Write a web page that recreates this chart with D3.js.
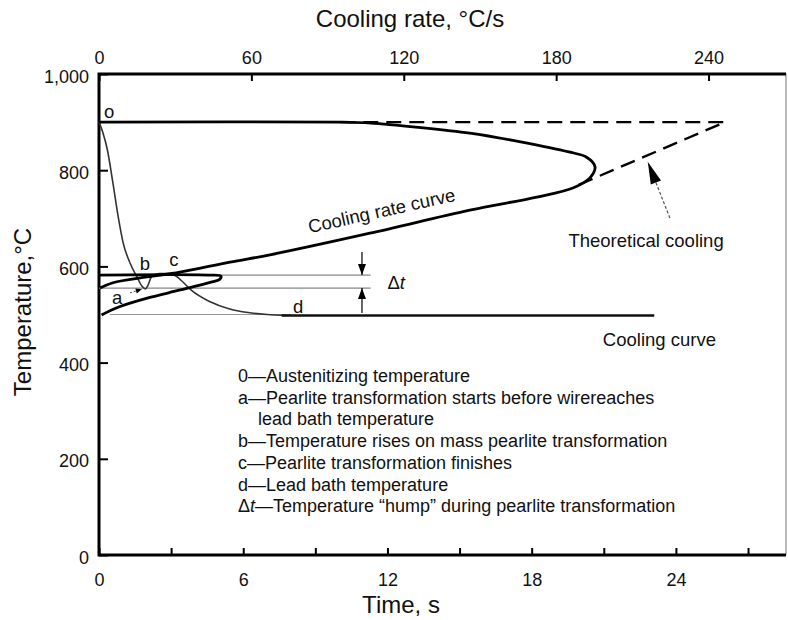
<!DOCTYPE html>
<html><head><meta charset="utf-8">
<script src="https://cdn.jsdelivr.net/npm/d3@7"></script>
<style>body{margin:0;background:#fff} svg{display:block} text{font-family:"Liberation Sans",Arial,sans-serif;fill:#111}</style>
</head><body><svg id="c" width="788" height="620"></svg>
<script>
// ---- data ----
const timeTicks = [0, 6, 12, 18, 24];
const timeMinorTicks = [3, 9, 15, 21, 27];
const rateTicks = [0, 60, 120, 180, 240];
const tempTicks = [0, 200, 400, 600, 800, 1000];

// cooling curve (time s, temperature °C)
const coolTime = [0, 0.15, 0.35, 0.58, 0.8, 1.0, 1.3, 1.58, 1.8, 1.93, 2.03, 2.2, 2.5, 2.9, 3.2, 3.5, 3.85, 4.6, 5.4, 6.2, 7.0, 7.8];
const coolTemp = [900, 880, 842, 773, 703, 650, 606, 578, 558, 553, 560, 580, 585, 585, 580, 567, 550, 527, 512, 504, 500, 498];
const bathTime = [7.6, 23.1];
const bathTemp = [498, 498];

// cooling rate curve (rate °C/s, temperature °C)
const rateCurveRate = [0, 95, 107, 126, 146, 166, 185, 192, 195.3, 193.3, 186.6, 172.4, 146, 106.7, 67.3, 51.6, 31.9, 18.9, 5.5, 0.4];
const rateCurveTemp = [900, 900, 898, 889, 877, 859, 838, 827, 807, 784, 763, 744, 717, 669, 624, 609, 588, 578, 566, 555];
const loopRate = [0, 43, 48, 47.5, 44.5, 32, 19, 8, 1];
const loopTemp = [582, 582, 580, 573, 568, 551, 534, 516, 499];
// theoretical cooling (dashed)
const theoRate = [95, 246.5, 188.6];
const theoTemp = [900, 900, 769];

const humpTemps = [582, 555];
const humpEnd = 11.3;
const bathRefTime = [0.45, 8];

const legendLines = [
  "0\u2014Austenitizing temperature",
  "a\u2014Pearlite transformation starts before wirereaches",
  "lead bath temperature",
  "b\u2014Temperature rises on mass pearlite transformation",
  "c\u2014Pearlite transformation finishes",
  "d\u2014Lead bath temperature"
];

// ---- scales ----
const svg = d3.select("#c");
const L = 99, R = 786, T = 74, B = 555;
const x = d3.scaleLinear().domain([0, 28.58]).range([L, R]);
const xr = d3.scaleLinear().domain([0, 270.5]).range([L, R]);
const y = d3.scaleLinear().domain([0, 1000]).range([B, T]);

// ---- axes ----
const gB = svg.append("g").attr("transform", `translate(0,${B})`)
  .call(d3.axisBottom(x).tickValues(timeTicks.concat(timeMinorTicks)).tickSize(-7).tickPadding(18)
    .tickFormat(d => timeTicks.includes(d) ? d : ""));
const gT = svg.append("g").attr("transform", `translate(0,${T})`)
  .call(d3.axisTop(xr).tickValues(rateTicks).tickSize(-7).tickPadding(10));
const gL = svg.append("g").attr("transform", `translate(${L},0)`)
  .call(d3.axisLeft(y).tickValues(tempTicks).tickSize(-9).tickPadding(10).tickFormat(d3.format(",")));
[gB, gT, gL].forEach(g => {
  g.select(".domain").remove();
  g.selectAll(".tick line").attr("stroke", "#000").attr("stroke-width", 2);
  g.selectAll(".tick text").attr("font-size", 18).attr("font-family", "Liberation Sans, Arial, sans-serif").attr("fill", "#111");
});
gL.selectAll(".tick text").attr("dy", "0.45em");

// frame
svg.append("line").attr("x1", R).attr("x2", R).attr("y1", T).attr("y2", B).attr("stroke", "#777").attr("stroke-width", 1);
svg.append("path").attr("d", `M${R},${T}H${L}V${B}H${R}`).attr("fill", "none").attr("stroke", "#000").attr("stroke-width", 3);

// titles
svg.append("text").attr("x", 410).attr("y", 27).attr("text-anchor", "middle").attr("font-size", 24).text("Cooling rate, \u00B0C/s");
svg.append("text").attr("x", 401).attr("y", 613).attr("text-anchor", "middle").attr("font-size", 24).text("Time, s");
svg.append("text").attr("transform", "translate(31,312) rotate(-90)").attr("text-anchor", "middle").attr("font-size", 24).text("Temperature,\u00B0C");

// ---- reference lines ----
humpTemps.forEach(t => {
  svg.append("line").attr("x1", x(0)).attr("x2", x(humpEnd)).attr("y1", y(t)).attr("y2", y(t))
    .attr("stroke", "#888").attr("stroke-width", 1.2);
});
svg.append("line").attr("x1", x(bathRefTime[0])).attr("x2", x(bathRefTime[1])).attr("y1", y(500)).attr("y2", y(500))
  .attr("stroke", "#999").attr("stroke-width", 1.2);

// ---- curves ----
const coolLine = d3.line().x(i => x(coolTime[i])).y(i => y(coolTemp[i])).curve(d3.curveMonotoneX);
svg.append("path").attr("d", coolLine(d3.range(coolTime.length))).attr("fill", "none").attr("stroke", "#333").attr("stroke-width", 1.6);
svg.append("path").attr("d", d3.line().x(i => x(bathTime[i])).y(i => y(bathTemp[i]))(d3.range(bathTime.length)))
  .attr("fill", "none").attr("stroke", "#111").attr("stroke-width", 2.4);

const rLine = d3.line().curve(d3.curveCatmullRom.alpha(0.5));
svg.append("path").attr("d", rLine(rateCurveRate.map((r, i) => [xr(r), y(rateCurveTemp[i])])))
  .attr("fill", "none").attr("stroke", "#000").attr("stroke-width", 2.8);
svg.append("path").attr("d", rLine(loopRate.map((r, i) => [xr(r), y(loopTemp[i])])))
  .attr("fill", "none").attr("stroke", "#000").attr("stroke-width", 2.8);
svg.append("path").attr("d", d3.line()(theoRate.map((r, i) => [xr(r), y(theoTemp[i])])))
  .attr("fill", "none").attr("stroke", "#000").attr("stroke-width", 2.4).attr("stroke-dasharray", "15,8");

// ---- arrows ----
function arrow(x1, y1, x2, y2, len, wid, opts) {
  svg.append("line").attr("x1", x1).attr("y1", y1).attr("x2", x2).attr("y2", y2)
    .attr("stroke", opts.color || "#000").attr("stroke-width", opts.w || 1.2)
    .attr("stroke-dasharray", opts.dash || null);
  const a = Math.atan2(y2 - y1, x2 - x1);
  const bx = x2 - len * Math.cos(a), by = y2 - len * Math.sin(a);
  const px = -Math.sin(a) * wid / 2, py = Math.cos(a) * wid / 2;
  svg.append("path").attr("d", `M${x2},${y2}L${bx + px},${by + py}L${bx - px},${by - py}Z`).attr("fill", "#000");
}
const tHump = 10.94;
arrow(x(tHump), y(630), x(tHump), y(582), 11, 8, {});
arrow(x(tHump), y(503), x(tHump), y(555), 11, 8, {});
arrow(xr(224.8), y(700.6), xr(216.1), y(817), 22, 11, { color: "#555", w: 1.2, dash: "3,2" });
arrow(x(1.29), y(545), x(1.78), y(552.5), 6, 5, { color: "#444", w: 1, dash: "2,2" });

// ---- annotations ----
const ann = (px, py, s, anchor, size) => svg.append("text").attr("x", px).attr("y", py)
  .attr("text-anchor", anchor || "middle").attr("font-size", size || 18.5).text(s);
ann(x(0.42), y(908), "o");
ann(x(1.91), y(593), "b");
ann(x(3.12), y(601), "c");
ann(x(0.75), y(522), "a");
ann(x(8.28), y(503), "d");
ann(xr(215.4), y(640), "Theoretical cooling");
ann(x(20.96), y(434.5), "Cooling curve", "start");
svg.append("text").attr("transform", `translate(${xr(111.8)},${y(702.7)}) rotate(-12.5)`)
  .attr("text-anchor", "middle").attr("font-size", 18.5).text("Cooling rate curve");
const dt = svg.append("text").attr("x", x(12.0)).attr("y", y(553)).attr("font-size", 18.5);
dt.append("tspan").text("\u0394");
dt.append("tspan").attr("font-style", "italic").text("t");

// ---- legend ----
const lx = 238, ly = 382, lh = 21.7;
legendLines.forEach((s, i) => {
  svg.append("text").attr("x", i === 2 ? lx + 20 : lx).attr("y", ly + i * lh).attr("font-size", 18).text(s);
});
const last = svg.append("text").attr("x", lx).attr("y", ly + 6 * lh).attr("font-size", 18);
last.append("tspan").text("\u0394");
last.append("tspan").attr("font-style", "italic").text("t");
last.append("tspan").text("\u2014Temperature \u201Chump\u201D during pearlite transformation");
</script></body></html>
